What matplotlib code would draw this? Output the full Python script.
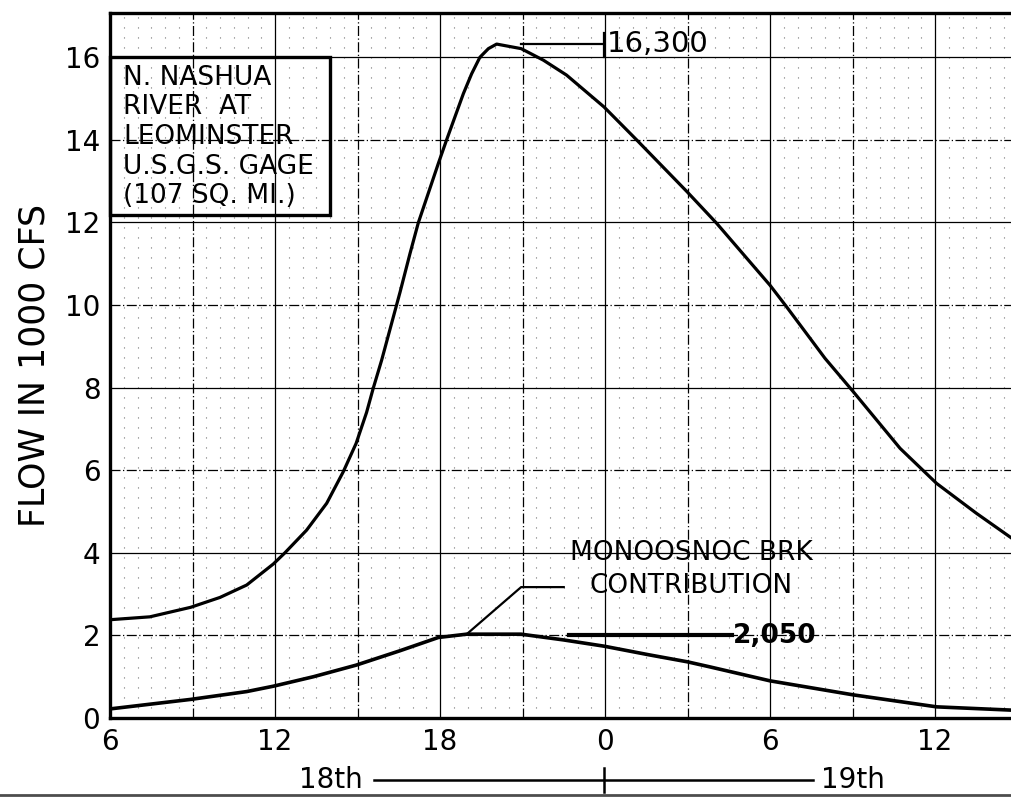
import matplotlib.pyplot as plt
import numpy as np

# hours counted from 0:00 on the 18th
hours_main = [6.0, 7.45, 8.93, 10.0, 10.97, 11.94, 12.36, 13.15, 13.88, 14.48, 14.95,
              15.33, 15.57, 15.88, 16.55, 16.91, 17.21, 17.94, 18.24, 18.85, 19.15,
              19.45, 19.76, 20.06, 20.95, 21.76, 22.6, 23.96, 25.15, 26.99, 28.06,
              30.0, 30.6, 32.0, 33.03, 34.73, 36.06, 37.5, 38.8]
flow_main = [2.38, 2.45, 2.68, 2.92, 3.22, 3.73, 4.0, 4.55, 5.2, 5.96, 6.65,
             7.4, 7.98, 8.67, 10.32, 11.25, 11.99, 13.43, 14.0, 15.12, 15.6,
             16.0, 16.21, 16.32, 16.21, 15.93, 15.57, 14.8, 14.0, 12.74, 11.98,
             10.48, 9.96, 8.71, 7.9, 6.53, 5.68, 4.96, 4.35]

hours_brk = [6.0, 8.93, 10.97, 11.94, 13.4, 14.95, 16.55, 17.94, 18.97, 20.95,
             22.5, 23.96, 25.6, 27.0, 27.8, 30.0, 33.03, 36.06, 38.8]
flow_brk = [0.22, 0.45, 0.64, 0.77, 1.0, 1.28, 1.63, 1.95, 2.03, 2.03,
            1.89, 1.74, 1.53, 1.36, 1.24, 0.9, 0.56, 0.27, 0.19]

xtick_pos = [6, 12, 18, 24, 30, 36]
xtick_labels = ['6', '12', '18', '0', '6', '12']
ytick_pos = [0, 2, 4, 6, 8, 10, 12, 14, 16]

plt.rcParams['font.family'] = 'DejaVu Sans'

fig = plt.figure(figsize=(10.12, 7.97), dpi=100)
ax = fig.add_axes([110 / 1012, 1 - 718 / 797, 1 - 110 / 1012, (718 - 12.7) / 797])
ax.set_xlim(6, 38.8)
ax.set_ylim(0, 17.08)

# graph paper grid
for h in np.arange(6, 39, 3):
    ls = '-' if h % 6 == 0 else (0, (8, 2, 1, 2))
    ax.axvline(h, color='black', lw=0.9, ls=ls, zorder=1)
for v in range(2, 17, 2):
    ls = '-' if v % 4 == 0 else (0, (8, 2, 1, 2))
    ax.axhline(v, color='black', lw=0.9, ls=ls, zorder=1)
for h in np.arange(6.5, 39, 0.5):
    if h % 3 != 0:
        ax.axvline(h, color='0.45', lw=0.8, ls=(0, (1, 8)), zorder=0)

ax.plot(hours_main, flow_main, color='black', lw=2.3, zorder=3)
ax.plot(hours_brk, flow_brk, color='black', lw=2.6, zorder=3)

for s in ['left', 'bottom', 'top']:
    ax.spines[s].set_linewidth(2.4)
ax.spines['right'].set_visible(False)

ax.set_xticks(xtick_pos)
ax.set_xticklabels(xtick_labels)
ax.set_yticks(ytick_pos)
ax.tick_params(length=0, labelsize=20, pad=7)
ax.set_ylabel('FLOW IN 1000 CFS', fontsize=25, labelpad=10)

# date bar under the axis
fig.text(331 / 1012, 1 - 780 / 797, '18th', fontsize=20, ha='center', va='center')
fig.text(853 / 1012, 1 - 780 / 797, '19th', fontsize=20, ha='center', va='center')
fig.add_artist(plt.Line2D([374 / 1012, 813 / 1012], [1 - 780 / 797] * 2, color='black', lw=1.8))
fig.add_artist(plt.Line2D([604 / 1012] * 2, [1 - 768 / 797, 1 - 792 / 797], color='black', lw=1.8))
fig.add_artist(plt.Line2D([0, 1], [1 - 795 / 797] * 2, color='0.3', lw=2))

# peak labels
ax.plot([20.95, 23.96], [16.32, 16.32], color='black', lw=1.6, zorder=3)
ax.plot([23.96, 23.96], [16.0, 16.6], color='black', lw=1.6, zorder=3)
ax.text(24.05, 16.32, '16,300', fontsize=21, va='center', ha='left', zorder=4)

ax.plot([18.97, 20.95, 22.5], [2.03, 3.17, 3.17], color='black', lw=1.6, zorder=3)
ax.text(27.13, 3.6, 'MONOOSNOC BRK\nCONTRIBUTION', fontsize=19, ha='center', va='center',
        linespacing=1.37, zorder=4)
ax.plot([22.7, 28.6], [2.02, 2.02], color='black', lw=3, zorder=3)
ax.text(28.65, 1.98, '2,050', fontsize=19, fontweight='bold', va='center', ha='left', zorder=4)

# station box
ax.add_patch(plt.Rectangle((6, 12.18), 8.0, 3.82, facecolor='none', edgecolor='black',
                           lw=2.4, zorder=4, clip_on=False))
ax.text(6.47, 14.07, 'N. NASHUA\nRIVER  AT\nLEOMINSTER\nU.S.G.S. GAGE\n(107 SQ. MI.)',
        fontsize=19, ha='left', va='center', linespacing=1.18, zorder=5)

fig.savefig('out.png', dpi=100)
